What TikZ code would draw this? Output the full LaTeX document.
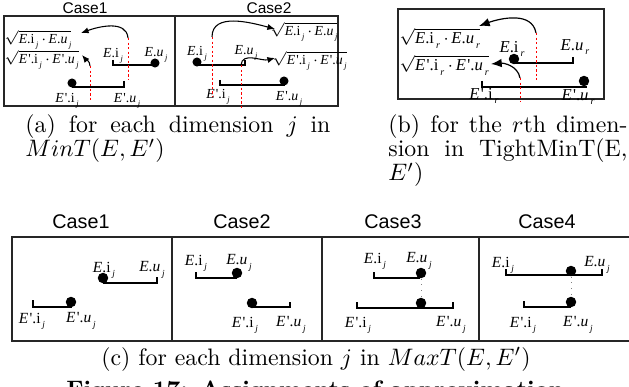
\documentclass[tikz,border=0pt]{standalone}
\usepackage{fontspec}
\usepackage{graphicx}
\usetikzlibrary{arrows.meta}
\newfontfamily\tnr{Liberation Serif}
\newfontfamily\arl{Liberation Sans}
\newcommand\sj[1]{\kern0.12em\raisebox{-0.6ex}[0pt][0pt]{\scalebox{0.6}{\itshape #1}}}
\newcommand\Ei[1]{\textit{E}.i\sj{#1}}
\newcommand\Eu[1]{\textit{E}.\textit{u}\sj{#1}}
\newcommand\Epi[1]{\textit{E}\kern0.08em'.i\sj{#1}}
\newcommand\Epu[1]{\textit{E}\kern0.08em'.\textit{u}\sj{#1}}
\newcommand\sqE[1]{$\sqrt{\hbox{\Ei{#1}\kern0.2em$\cdot$\kern0.15em\Eu{#1}}}$}
\newcommand\sqEp[1]{$\sqrt{\hbox{\Epi{#1}\kern0.2em$\cdot$\kern0.15em\Epu{#1}}}$}
\tikzset{
 box/.style={line width=0.6pt, draw=black!85},
 iv/.style={line width=0.85pt},
 ivb/.style={line width=1.05pt},
 dot/.style={circle, fill, inner sep=0pt, minimum size=3.8pt},
 dotb/.style={circle, fill, inner sep=0pt, minimum size=4.4pt},
 red dash/.style={red, line width=0.4pt, dash pattern=on 1pt off 0.9pt},
 arr/.style={line width=0.45pt, -{Latex[length=3.2pt,width=2.6pt]}},
 arrb/.style={line width=0.5pt, -{Latex[length=4.5pt,width=3.6pt]}},
 lab/.style={font=\tnr\fontsize{5.8}{7}\selectfont, inner sep=0pt},
 labs/.style={font=\tnr\fontsize{5.8}{7}\selectfont, inner sep=0pt},
 labb/.style={font=\tnr\fontsize{7}{8.5}\selectfont, inner sep=0pt},
 labc/.style={font=\tnr\fontsize{6.5}{8}\selectfont, inner sep=0pt},
 case/.style={font=\arl\fontsize{6.5}{8}\selectfont, inner sep=0pt},
 casec/.style={font=\arl\fontsize{8.3}{10}\selectfont, inner sep=0pt},
 captext/.style={font=\fontsize{10}{12}\selectfont, inner sep=0pt},
 vdot/.style={gray, dotted, line width=0.4pt},
}
\begin{document}
\begin{tikzpicture}[x=0.42pt,y=-0.42pt]
\useasboundingbox (0,0) rectangle (629,387);
% ================= panel (a)
\node[case] (a1c) at (85,8) {Case1};
\node[case] (a2c) at (269,8) {Case2};
\draw[box] (4,16) rectangle (338,106);
\draw[box] (175,16) -- (175,106);
% Case1
\node[labs, anchor=west] (sqa1) at (4,38) {\sqE{j}};
\node[labs, anchor=west] (sqa2) at (4,58) {\sqEp{j}};
\coordinate (a1EL) at (113,65); \coordinate (a1ER) at (155,65);
\draw[iv] (a1EL) ++(0,-5) -- (a1EL) -- (a1ER);
\node[dot] (a1Ed) at (155,63) {};
\coordinate (a1FL) at (72,87); \coordinate (a1FR) at (124,87);
\draw[iv] (a1FR) ++(0,-6) -- (a1FR) -- (a1FL);
\node[dot] (a1Fd) at (72,83) {};
\node[lab] (a1Ei) at (113,53) {\Ei{j}};
\node[lab] (a1Eu) at (156,52) {\Eu{j}};
\node[lab] (a1Fi) at (67,98) {\Epi{j}};
\node[lab] (a1Fu) at (127,98) {\Epu{j}};
\coordinate (a1r1t) at (128,38); \coordinate (a1r1b) at (128,80);
\coordinate (a1r2t) at (90,66); \coordinate (a1r2b) at (90,100);
\draw[red dash] (a1r1t) -- (a1r1b);
\draw[red dash] (a1r2t) -- (a1r2b);
\coordinate (a1t1) at (81,33); \coordinate (a1t2) at (82,55);
\draw[arr] (a1r1t) to[out=95,in=20] (a1t1);
\draw[arr] (a1r2t) to[out=90,in=-50] (a1t2);
% Case2
\node[labs, anchor=west] (sqa3) at (270,30) {\sqE{j}};
\node[labs, anchor=west] (sqa4) at (272,59) {\sqEp{j}};
\coordinate (a2EL) at (197,65); \coordinate (a2ER) at (245,65);
\draw[iv] (a2ER) ++(0,-5) -- (a2ER) -- (a2EL);
\node[dot] (a2Ed) at (197,62) {};
\coordinate (a2FL) at (220,85); \coordinate (a2FR) at (285,85);
\draw[iv] (a2FL) ++(0,-5) -- (a2FL) -- (a2FR);
\node[dot] (a2Fd) at (284,81) {};
\node[lab] (a2Ei) at (197,51) {\Ei{j}};
\node[lab] (a2Eu) at (246,50) {\Eu{j}};
\node[lab] (a2Fi) at (218,94) {\Epi{j}};
\node[lab] (a2Fu) at (289,96) {\Epu{j}};
\coordinate (a2r1t) at (212,37); \coordinate (a2r1b) at (212,97);
\coordinate (a2r2t) at (241,65); \coordinate (a2r2b) at (241,108);
\draw[red dash] (a2r1t) -- (a2r1b);
\draw[red dash] (a2r2t) -- (a2r2b);
\coordinate (a2t1) at (275,29); \coordinate (a2t2) at (275,58);
\draw[arr] (a2r1t) to[out=90,in=165] (a2t1);
\draw[arr] (a2r2t) to[out=85,in=195] (a2t2);
% ================= panel (b)
\draw[box] (398,9) rectangle (604,99);
\node[labb, anchor=west] (sqb1) at (399,37) {$\sqrt{\hbox{\Ei{r}\kern0.2em$\cdot$\kern0.15em\Eu{r}}}$};
\node[labb, anchor=west] (sqb2) at (399,64) {$\sqrt{\hbox{\Epi{r}\kern0.2em$\cdot$\kern0.15em\Epu{r}}}$};
\coordinate (bEL) at (515,63); \coordinate (bER) at (573,63);
\draw[ivb] (bER) ++(0,-6) -- (bER) -- (bEL);
\node[dotb] (bEd) at (514,59) {};
\coordinate (bFL) at (482,87); \coordinate (bFR) at (587,87);
\draw[ivb] (bFL) ++(0,-6) -- (bFL) -- (bFR);
\node[dotb] (bFd) at (584,81) {};
\node[labb] (bEi) at (512,47) {\Ei{r}};
\node[labb] (bEu) at (575,45) {\Eu{r}};
\node[labb] (bFi) at (484,94) {\Epi{r}};
\node[labb] (bFu) at (578,95) {\Epu{r}};
\coordinate (br1t) at (536,33); \coordinate (br1b) at (536,80);
\coordinate (br2t) at (520,78); \coordinate (br2b) at (520,102);
\draw[red dash] (br1t) -- (br1b);
\draw[red dash] (br2t) -- (br2b);
\coordinate (bt1) at (479,26); \coordinate (bt2) at (491,64);
\draw[arrb] (br1t) to[out=100,in=20] (bt1);
\draw[arrb] (br2t) to[out=100,in=5] (bt2);
% ================= captions (a),(b)
\node[captext, anchor=base west] (capa1) at (25,133) {\makebox[128.1pt][s]{(a) for each dimension $j$ in}};
\node[captext, anchor=base west] (capa2) at (25,157) {$MinT(E,E')$};
\node[captext, anchor=base west] (capb1) at (388,133) {\makebox[100.4pt][s]{(b) for the $r$th dimen-}};
\node[captext, anchor=base west] (capb2) at (388,157) {\makebox[100.4pt][s]{sion in TightMinT(E,}};
\node[captext, anchor=base west] (capb3) at (388,181) {$E')$};
% ================= panel (c)
\node[casec] (c1c) at (81,222) {Case1};
\node[casec] (c2c) at (242,222) {Case2};
\node[casec] (c3c) at (393,222) {Case3};
\node[casec] (c4c) at (547,222) {Case4};
\draw[box] (12,237) rectangle (632,341);
\draw[box] (172,237) -- (172,341);
\draw[box] (322,237) -- (322,341);
\draw[box] (479,237) -- (479,341);
% c Case1
\coordinate (c1EL) at (103,283); \coordinate (c1ER) at (157,283);
\draw[iv] (c1ER) ++(0,-6) -- (c1ER) -- (c1EL);
\node[dotb] (c1Ed) at (103,278) {};
\coordinate (c1FL) at (33,307); \coordinate (c1FR) at (72,307);
\draw[iv] (c1FL) ++(0,-7) -- (c1FL) -- (c1FR);
\node[dotb] (c1Fd) at (71,302) {};
\node[labc] (c1Ei) at (104,267) {\Ei{j}};
\node[labc] (c1Eu) at (152,267) {\Eu{j}};
\node[labc] (c1Fi) at (32,318) {\Epi{j}};
\node[labc] (c1Fu) at (81,318) {\Epu{j}};
% c Case2
\coordinate (c2EL) at (196,278); \coordinate (c2ER) at (237,278);
\draw[iv] (c2EL) ++(0,-6) -- (c2EL) -- (c2ER);
\node[dotb] (c2Ed) at (237,273) {};
\coordinate (c2FL) at (252,307); \coordinate (c2FR) at (290,307);
\draw[iv] (c2FR) ++(0,-5) -- (c2FR) -- (c2FL);
\node[dotb] (c2Fd) at (252,303) {};
\node[labc] (c2Ei) at (196,260) {\Ei{j}};
\node[labc] (c2Eu) at (239,260) {\Eu{j}};
\node[labc] (c2Fi) at (245,322) {\Epi{j}};
\node[labc] (c2Fu) at (291,322) {\Epu{j}};
% c Case3
\coordinate (c3EL) at (374,278); \coordinate (c3ER) at (420,278);
\draw[iv] (c3EL) ++(0,-6) -- (c3EL) -- (c3ER);
\node[dotb] (c3Ed) at (421,273) {};
\coordinate (c3FL) at (357,308); \coordinate (c3FR) at (453,308);
\draw[iv] (c3FL) ++(0,-6) -- (c3FL) -- (c3FR) -- ++(0,-6);
\node[dotb] (c3Fd) at (421,303) {};
\draw[vdot] (c3Ed) -- (c3Fd);
\node[labc] (c3Ei) at (375,258) {\Ei{j}};
\node[labc] (c3Eu) at (419,258) {\Eu{j}};
\node[labc] (c3Fi) at (358,322) {\Epi{j}};
\node[labc] (c3Fu) at (451,322) {\Epu{j}};
% c Case4
\coordinate (c4EL) at (506,275); \coordinate (c4ER) at (602,275);
\draw[iv] (c4EL) ++(0,-6) -- (c4EL) -- (c4ER) -- ++(0,-6);
\node[dotb] (c4Ed) at (571,271) {};
\coordinate (c4FL) at (524,307); \coordinate (c4FR) at (571,307);
\draw[iv] (c4FL) ++(0,-6) -- (c4FL) -- (c4FR);
\node[dotb] (c4Fd) at (571,302) {};
\draw[vdot] (c4Ed) -- (c4Fd);
\node[labc] (c4Ei) at (503,262) {\Ei{j}};
\node[labc] (c4Eu) at (597,262) {\Eu{j}};
\node[labc] (c4Fi) at (523,322) {\Epi{j}};
\node[labc] (c4Fu) at (578,322) {\Epu{j}};
% ================= caption (c) and figure
\node[captext, anchor=base] (capc) at (316,365) {(c) for each dimension $j$ in $MaxT(E,E')$};
\node[captext, anchor=base] (fig) at (315,397) {\bfseries Figure 17: Assignments of approximation};
\end{tikzpicture}
\end{document}
